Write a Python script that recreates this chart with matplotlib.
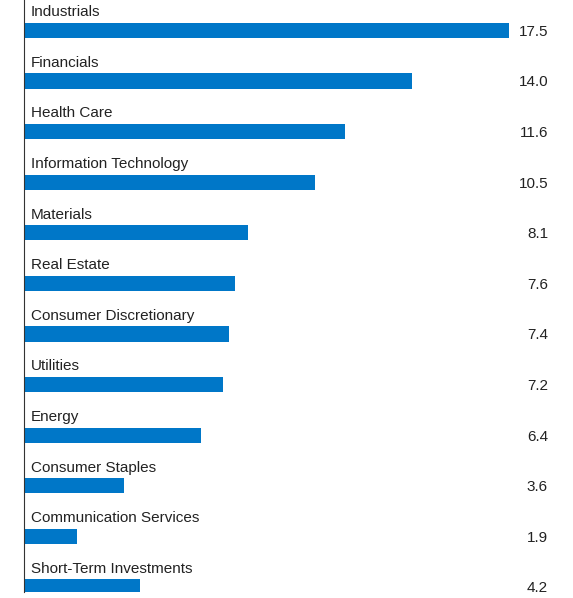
import matplotlib
matplotlib.use("Agg")
import matplotlib.pyplot as plt

categories = ["Industrials", "Financials", "Health Care", "Information Technology", "Materials",
              "Real Estate", "Consumer Discretionary", "Utilities", "Energy", "Consumer Staples",
              "Communication Services", "Short-Term Investments"]
values = [17.5, 14.0, 11.6, 10.5, 8.1, 7.6, 7.4, 7.2, 6.4, 3.6, 1.9, 4.2]

plt.rcParams['font.family'] = ['Liberation Sans', 'DejaVu Sans']
fig = plt.figure(figsize=(5.73, 5.98), dpi=100)
ax = fig.add_axes([24/573, 6/598, 549/573, 592/598])
y = list(range(len(categories)))
ax.barh(y, values, height=0.3, color="#0077C8")
ax.set_xlim(0, 549/27.7)
ax.set_ylim(11.1, -0.6)
for i, (c, v) in enumerate(zip(categories, values)):
    ax.text(0.25, i - 0.36, c, fontsize=11, va="center", ha="left", color="#222222")
    ax.text(524/549, i + 0.03, f"{v:.1f}", fontsize=11, va="center", ha="right",
            color="#222222", transform=ax.get_yaxis_transform())
for s in ["top", "right", "bottom"]:
    ax.spines[s].set_visible(False)
ax.spines["left"].set_color("#333333")
ax.set_xticks([]); ax.set_yticks([])
fig.savefig("out.png", dpi=100)
